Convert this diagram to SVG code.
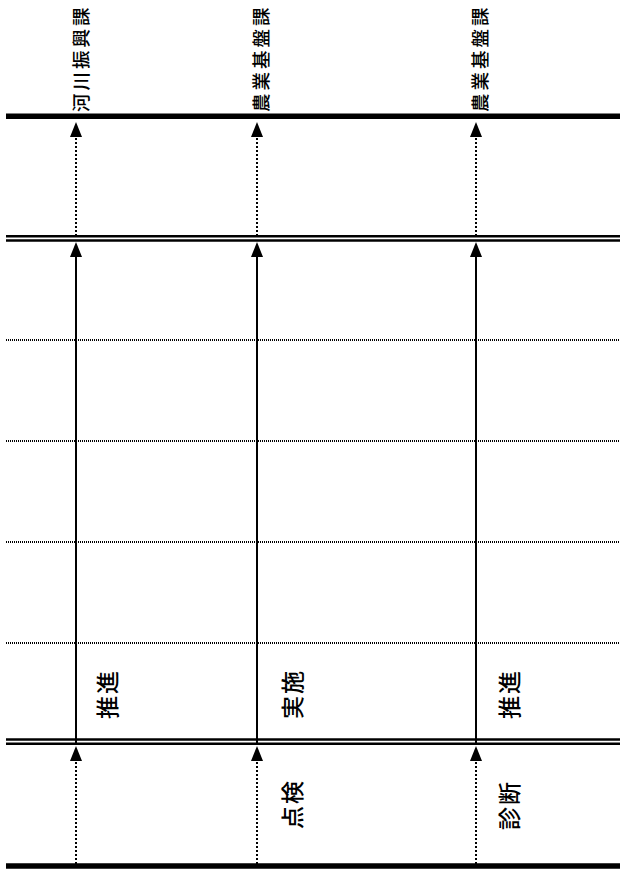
<svg xmlns="http://www.w3.org/2000/svg" width="620" height="873" viewBox="0 0 620 873">
<style>
  .lbl { font-family: "Noto Sans CJK JP", "Noto Sans CJK SC", sans-serif; font-size: 18.5px; font-weight: 500; letter-spacing: 3px; fill: #000; }
  .mid { font-family: "Noto Sans CJK JP", "Noto Sans CJK SC", sans-serif; font-size: 23px; font-weight: 500; letter-spacing: 2px; fill: #000; }
  .thick { stroke: #000; stroke-width: 5.5; }
  .dbl { stroke: #000; stroke-width: 2.5; }
  .grid { stroke: #000; stroke-width: 2; stroke-dasharray: 1 1; }
  .solid { stroke: #000; stroke-width: 2; fill: none; marker-end: url(#ah); }
  .dot { stroke: #000; stroke-width: 2; stroke-dasharray: 2 2; fill: none; marker-end: url(#ah); }
</style>
<defs>
  <marker id="ah" markerUnits="userSpaceOnUse" markerWidth="15" markerHeight="12" refX="0" refY="6" orient="auto" viewBox="0 0 15 12">
    <path d="M0,0 L15,6 L0,12 z" fill="#000"/>
  </marker>
</defs>
<rect width="620" height="873" fill="#fff"/>
<g id="frame">
  <line class="thick" x1="6" y1="116.3" x2="620" y2="116.3"/>
  <line class="dbl" x1="6" y1="236.2" x2="620" y2="236.2"/>
  <line class="dbl" x1="6" y1="240.5" x2="620" y2="240.5"/>
  <line class="grid" x1="6" y1="340" x2="620" y2="340"/>
  <line class="grid" x1="6" y1="441" x2="620" y2="441"/>
  <line class="grid" x1="6" y1="542" x2="620" y2="542"/>
  <line class="grid" x1="6" y1="643" x2="620" y2="643"/>
  <line class="dbl" x1="6" y1="739.5" x2="620" y2="739.5"/>
  <line class="dbl" x1="6" y1="743.8" x2="620" y2="743.8"/>
  <line class="thick" x1="6" y1="866" x2="620" y2="866"/>
</g>
<g id="connectors">
  <path class="dot" d="M76,236 L76,137"/>
  <path class="dot" d="M257,236 L257,137"/>
  <path class="dot" d="M476,236 L476,137"/>
  <path class="solid" d="M76,744 L76,257"/>
  <path class="solid" d="M257,744 L257,257"/>
  <path class="solid" d="M476,744 L476,257"/>
  <path class="dot" d="M76,864 L76,761"/>
  <path class="dot" d="M257,864 L257,761"/>
  <path class="dot" d="M476,864 L476,761"/>
</g>
<g id="label-kasen"><text class="lbl" transform="translate(80,112) rotate(-90)" dominant-baseline="central">河川振興課</text></g>
<g id="label-nogyo1"><text class="lbl" transform="translate(260,112) rotate(-90)" dominant-baseline="central">農業基盤課</text></g>
<g id="label-nogyo2"><text class="lbl" transform="translate(479,112) rotate(-90)" dominant-baseline="central">農業基盤課</text></g>
<g id="label-suishin1"><text class="mid" transform="translate(106,719) rotate(-90)" dominant-baseline="central">推進</text></g>
<g id="label-jisshi"><text class="mid" transform="translate(291,719) rotate(-90)" dominant-baseline="central">実施</text></g>
<g id="label-suishin2"><text class="mid" transform="translate(508,719) rotate(-90)" dominant-baseline="central">推進</text></g>
<g id="label-tenken"><text class="mid" transform="translate(291,829) rotate(-90)" dominant-baseline="central">点検</text></g>
<g id="label-shindan"><text class="mid" transform="translate(508,830) rotate(-90)" dominant-baseline="central">診断</text></g>
</svg>
